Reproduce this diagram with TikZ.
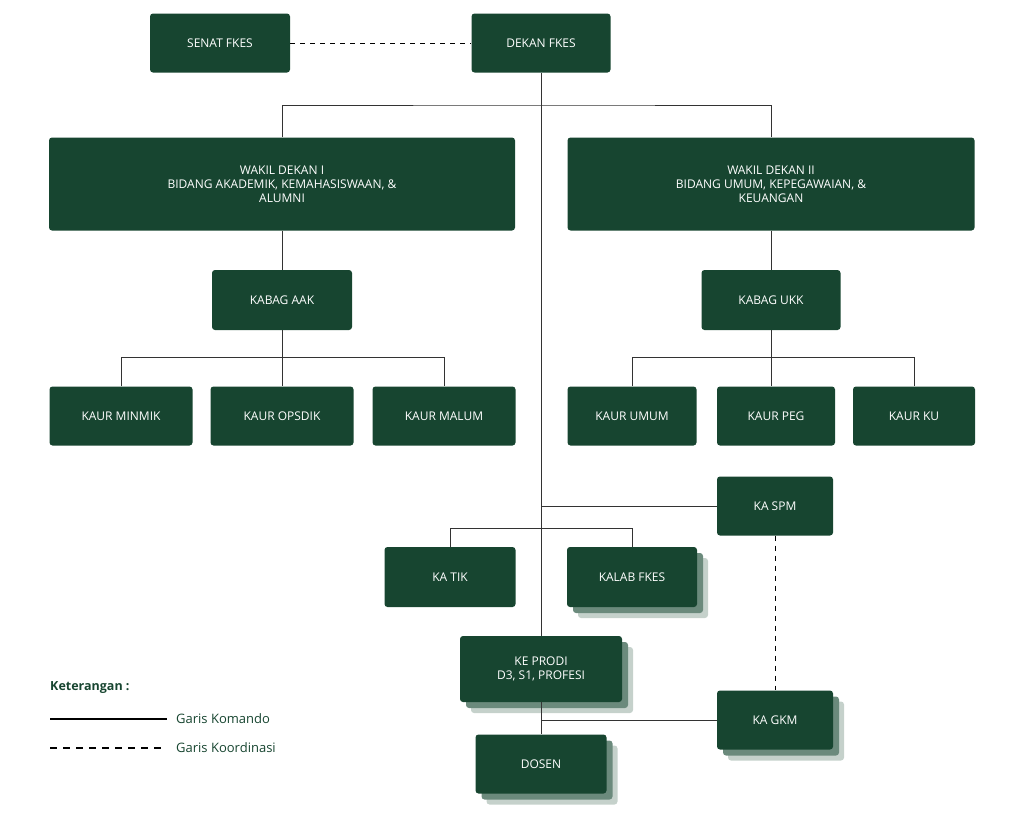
\documentclass[tikz,border=0pt]{standalone}
\usepackage{fontspec}
\setmainfont{Open Sans}
\usetikzlibrary{positioning}
\definecolor{fkesgreen}{HTML}{174530}
\definecolor{shadowA}{HTML}{6B8A7C}
\definecolor{shadowB}{HTML}{C5D1CB}
\tikzset{
  unit/.style={fill=fkesgreen, rounded corners=3pt, text=white, align=center, inner sep=0pt, font=\fontsize{12}{14}\selectfont},
  shadowed/.style={unit, preaction={fill=shadowB, rounded corners=3pt, transform canvas={shift={(11pt,-11pt)}}}, preaction={fill=shadowA, rounded corners=3pt, transform canvas={shift={(6pt,-6pt)}}}},
  cmd/.style={draw=black!80, line width=0.8pt},
  coord/.style={draw=black, line width=0.9pt, dash pattern=on 5pt off 5pt},
}
\begin{document}
\begin{tikzpicture}[x=1pt,y=-1pt]
\useasboundingbox (0,0) rectangle (1024,819);

% top level
\node[unit, minimum width=139pt, minimum height=59pt] (dekan) at (541,43) {DEKAN FKES};
\node[unit, minimum width=140pt, minimum height=59pt] (senat) at (220,43) {SENAT FKES};

% wakil dekan
\node[unit, minimum width=466pt, minimum height=93pt] (wd1) at (282,184) {WAKIL DEKAN I\\BIDANG AKADEMIK, KEMAHASISWAAN, \&\\ALUMNI};
\node[unit, minimum width=407pt, minimum height=93pt] (wd2) at (771,184) {WAKIL DEKAN II\\BIDANG UMUM, KEPEGAWAIAN, \&\\KEUANGAN};

% kabag
\node[unit, minimum width=140pt, minimum height=60pt] (aak) at (282,300) {KABAG AAK};
\node[unit, minimum width=139pt, minimum height=60pt] (ukk) at (771,300) {KABAG UKK};

% kaur
\node[unit, minimum width=143pt, minimum height=59pt] (minmik) at (121,416) {KAUR MINMIK};
\node[unit, minimum width=143pt, minimum height=59pt] (opsdik) at (282,416) {KAUR OPSDIK};
\node[unit, minimum width=143pt, minimum height=59pt] (malum) at (444,416) {KAUR MALUM};
\node[unit, minimum width=129pt, minimum height=59pt] (umum) at (632,416) {KAUR UMUM};
\node[unit, minimum width=118pt, minimum height=59pt] (peg) at (776,416) {KAUR PEG};
\node[unit, minimum width=122pt, minimum height=59pt] (ku) at (914,416) {KAUR KU};

% lower units
\node[unit, minimum width=116pt, minimum height=59pt] (spm) at (775,506) {KA SPM};
\node[unit, minimum width=131pt, minimum height=60pt] (tik) at (450,577) {KA TIK};
\node[shadowed, minimum width=130pt, minimum height=60pt] (kalab) at (632,577) {KALAB FKES};
\node[shadowed, minimum width=162pt, minimum height=66pt] (prodi) at (541,669) {KE PRODI\\D3, S1, PROFESI};
\node[shadowed, minimum width=116pt, minimum height=59pt] (gkm) at (775,720) {KA GKM};
\node[shadowed, minimum width=131pt, minimum height=59pt] (dosen) at (541,764) {DOSEN};

% connectors
\draw[coord] (senat) -- (dekan);
\draw[cmd] (dekan.south) -- (prodi.north);
\draw[cmd] (wd1.north) |- (541,105) -| (wd2.north);
\draw[cmd] (wd1) -- (aak);
\draw[cmd] (wd2) -- (ukk);
\draw[cmd] (minmik.north) |- (444,357) -- (malum.north);
\draw[cmd] (aak) -- (opsdik);
\draw[cmd] (umum.north) |- (914,357) -- (ku.north);
\draw[cmd] (ukk.south) -- (ukk.south |- peg.north);
\draw[cmd] (541,506) -- (spm.west);
\draw[cmd] (tik.north) |- (632,528) -- (kalab.north);
\draw[cmd] (prodi.south) -- (dosen.north);
\draw[cmd] (541,720) -- (gkm.west);
\draw[coord] (spm.south) -- (gkm.north);

% legend
\node[anchor=west, inner sep=0pt, text=fkesgreen, font=\fontsize{12.5}{14}\selectfont\bfseries] (ket) at (50,688) {Keterangan :};
\coordinate (k1) at (50,719);
\coordinate (k2) at (50,748);
\node[anchor=west, inner sep=0pt, text=fkesgreen, font=\fontsize{13}{15}\selectfont] (kom) at (176,719) {Garis Komando};
\node[anchor=west, inner sep=0pt, text=fkesgreen, font=\fontsize{13}{15}\selectfont] (kor) at (176,748) {Garis Koordinasi};
\draw[line width=2pt] (k1) -- (167,719);
\draw[line width=1.4pt, dash pattern=on 7pt off 6pt] (k2) -- (167,748);
\end{tikzpicture}
\end{document}
